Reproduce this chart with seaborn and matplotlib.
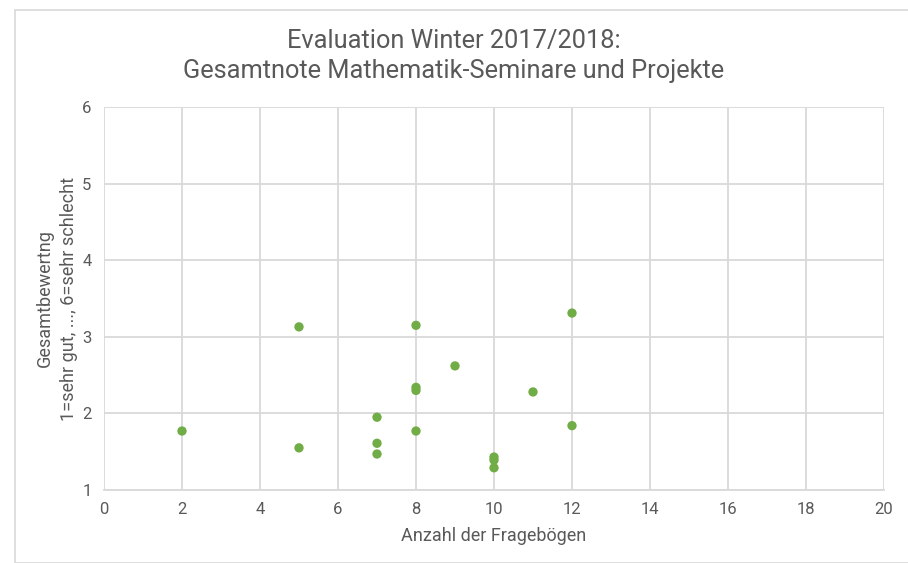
import pandas as pd
import numpy as np
import matplotlib.pyplot as plt
import seaborn as sns
from matplotlib.patches import Rectangle

# Data
anzahl = [2, 5, 5, 7, 7, 7, 8, 8, 8, 8, 9, 10, 10, 10, 11, 12, 12]
note = [1.77, 3.13, 1.55, 1.95, 1.61, 1.47, 3.15, 2.34, 2.30, 1.77, 2.62, 1.43, 1.39, 1.29, 2.28, 3.31, 1.84]
x_ticks = list(range(0, 21, 2))
y_ticks = [1, 2, 3, 4, 5, 6]

df = pd.DataFrame({'Anzahl': anzahl, 'Note': note})

sns.set_theme(style="whitegrid")
plt.rcParams['font.family'] = ['Roboto', 'DejaVu Sans']
text_col = '#595959'
grid_col = '#d9d9d9'

fig = plt.figure(figsize=(9.08, 5.63), dpi=100)
ax = fig.add_axes([104 / 908, 1 - 490 / 563, 780 / 908, 383 / 563])

sns.scatterplot(data=df, x='Anzahl', y='Note', ax=ax, color='#70ad47',
                s=45, edgecolor='none', zorder=3)

ax.set_xlim(0, 20)
ax.set_ylim(1, 6)
ax.set_xticks(x_ticks)
ax.set_yticks(y_ticks)
ax.grid(True, color=grid_col, linewidth=1.3)
for side in ['top', 'right', 'left']:
    ax.spines[side].set_visible(False)
ax.spines['bottom'].set_color(grid_col)
ax.spines['bottom'].set_linewidth(1.3)
ax.tick_params(colors=text_col, labelsize=12, length=0, pad=9)

ax.set_xlabel('Anzahl der Fragebögen', color=text_col, fontsize=13, labelpad=7)
ax.set_ylabel('Gesamtbewertng\n1=sehr gut, ..., 6=sehr schlecht', color=text_col,
              fontsize=13, labelpad=3, linespacing=1.45)
fig.suptitle('Evaluation Winter 2017/2018:\nGesamtnote Mathematik-Seminare und Projekte',
             color=text_col, fontsize=18.3, y=0.948, linespacing=1.3)

# chart area border
fig.patches.append(Rectangle((15 / 908, 0), 1, 1 - 10 / 563, transform=fig.transFigure,
                             fill=False, edgecolor='#d9d9d9', linewidth=1.2))

fig.savefig('out.png', dpi=100)
plt.close(fig)
